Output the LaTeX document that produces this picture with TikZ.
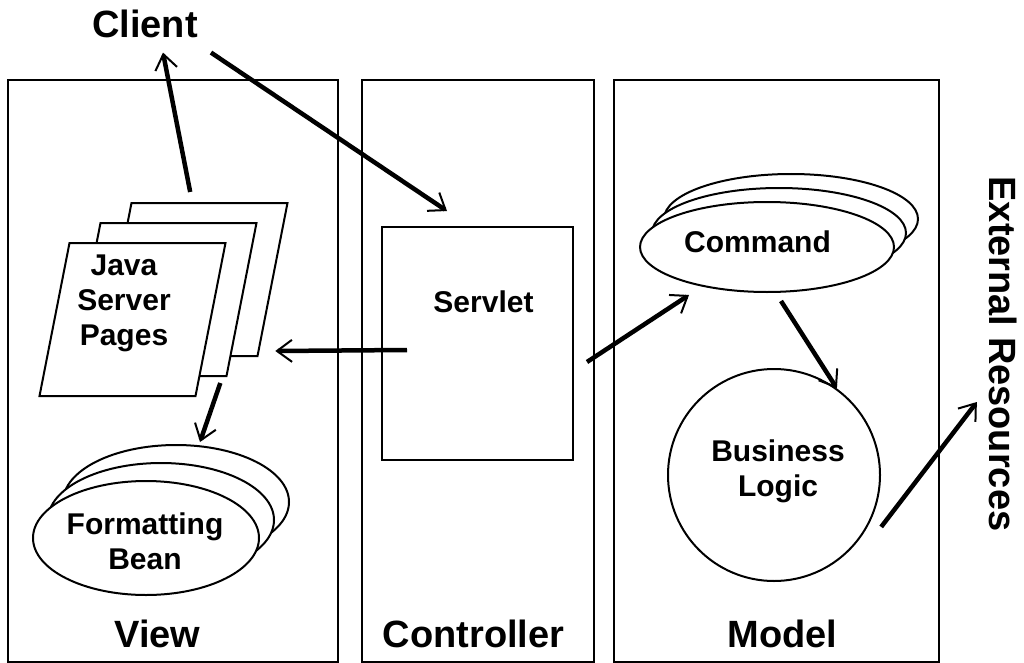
\documentclass[tikz,border=0pt]{standalone}
\usepackage{fontspec}
\setmainfont{Liberation Sans}
\usetikzlibrary{positioning, shapes.geometric, arrows.meta}

\begin{document}
\begin{tikzpicture}[x=1pt,y=-1pt,on grid,
    panel/.style={draw,line width=1.5pt,minimum height=582pt,inner sep=0pt},
    page/.style={draw,fill=white,line width=2pt,xslant=0.196,
      minimum width=156pt,minimum height=153pt,inner sep=0pt},
    bean/.style={ellipse,draw,fill=white,line width=2pt,inner sep=0pt},
    box/.style={draw,line width=2pt,inner sep=0pt},
    title/.style={font=\fontsize{38}{40}\selectfont\bfseries,inner sep=0pt,anchor=base},
    txt/.style={font=\fontsize{30}{35}\selectfont\bfseries,align=center,inner sep=0pt},
    flow/.style={line width=4.5pt,-{Straight Barb[length=15pt,width=22pt,line width=2pt]}}]

   \useasboundingbox (0,0) rectangle (1024,663);

   % the three layers
   \node[panel,minimum width=330pt] (view)  at (173,371)   {};
   \node[panel,minimum width=232pt] (ctrl)  at (478,371)   {};
   \node[panel,minimum width=325pt] (model) at (776.5,371) {};

   \node[title] (client)    at (145,38)    {Client};
   \node[title] (viewlbl)   at (157.5,647) {View};
   \node[title] (ctrllbl)   at (473.5,647) {Controller};
   \node[title] (modellbl)  at (782.5,647) {Model};
   \node[title,anchor=center,rotate=-90] (ext) at (1003,354) {External Resources};

   % view
   \node[page] (jspC) at (194.5,279.5) {};
   \node[page] (jspB) [below left=20pt and 31pt of jspC] {};
   \node[page] (jspA) [below left=20pt and 31pt of jspB] {};
   \node[txt]  (jsp)  at (124,303) {Java\\Server\\Pages};

   \node[bean,minimum width=226pt,minimum height=114pt] (fbC) at (176,502) {};
   \node[bean,minimum width=226pt,minimum height=114pt] (fbB) [below left=18pt and 15pt of fbC] {};
   \node[bean,minimum width=226pt,minimum height=114pt] (fbA) [below left=18pt and 15pt of fbB] {};
   \node[txt]  (fb)   at (145,541) {Formatting\\Bean};

   % controller
   \node[box,minimum width=191pt,minimum height=233pt] (servlet) at (477.5,343.5) {};
   \node[txt]  (servlettxt) at (483.5,302) {Servlet};

   % model
   \node[bean,minimum width=254pt,minimum height=90pt] (cmdC) at (791,219) {};
   \node[bean,minimum width=254pt,minimum height=90pt] (cmdB) [below left=14pt and 12pt of cmdC] {};
   \node[bean,minimum width=254pt,minimum height=90pt] (cmdA) [below left=14pt and 12pt of cmdB] {};
   \node[txt]  (cmd)  at (757.5,242) {Command};

   \node[circle,draw,line width=2pt,minimum size=212pt] (bl) at (774,475) {};
   \node[txt]  (bltxt) at (778,471) {Business\\Logic};

   % requests
   \draw[flow] ([shift={(-19.5,-10)}]jspC.north) -- ([shift={(18,14)}]client.south);
   \draw[flow] ([shift={(13,14)}]client.south east) -- ([shift={(-30.5,-15)}]servlet.north);
   \draw[flow] ([shift={(26,6.5)}]servlet.west) -- ([shift={(17,-6)}]jspC.south east);
   \draw[flow] ([shift={(-7,6)}]jspB.south east) -- ([shift={(24,-2)}]fbC.north);
   \draw[flow] ([shift={(13,18.5)}]servlet.east) -- ([shift={(-78,2)}]cmdA.south);
   \draw[flow] ([shift={(14,8)}]cmdA.south) -- (bl.54);
   \draw[flow] ([shift={(11,5)}]bl.-26) -- ([shift={(-12,48)}]ext.south);

\end{tikzpicture}
\end{document}
